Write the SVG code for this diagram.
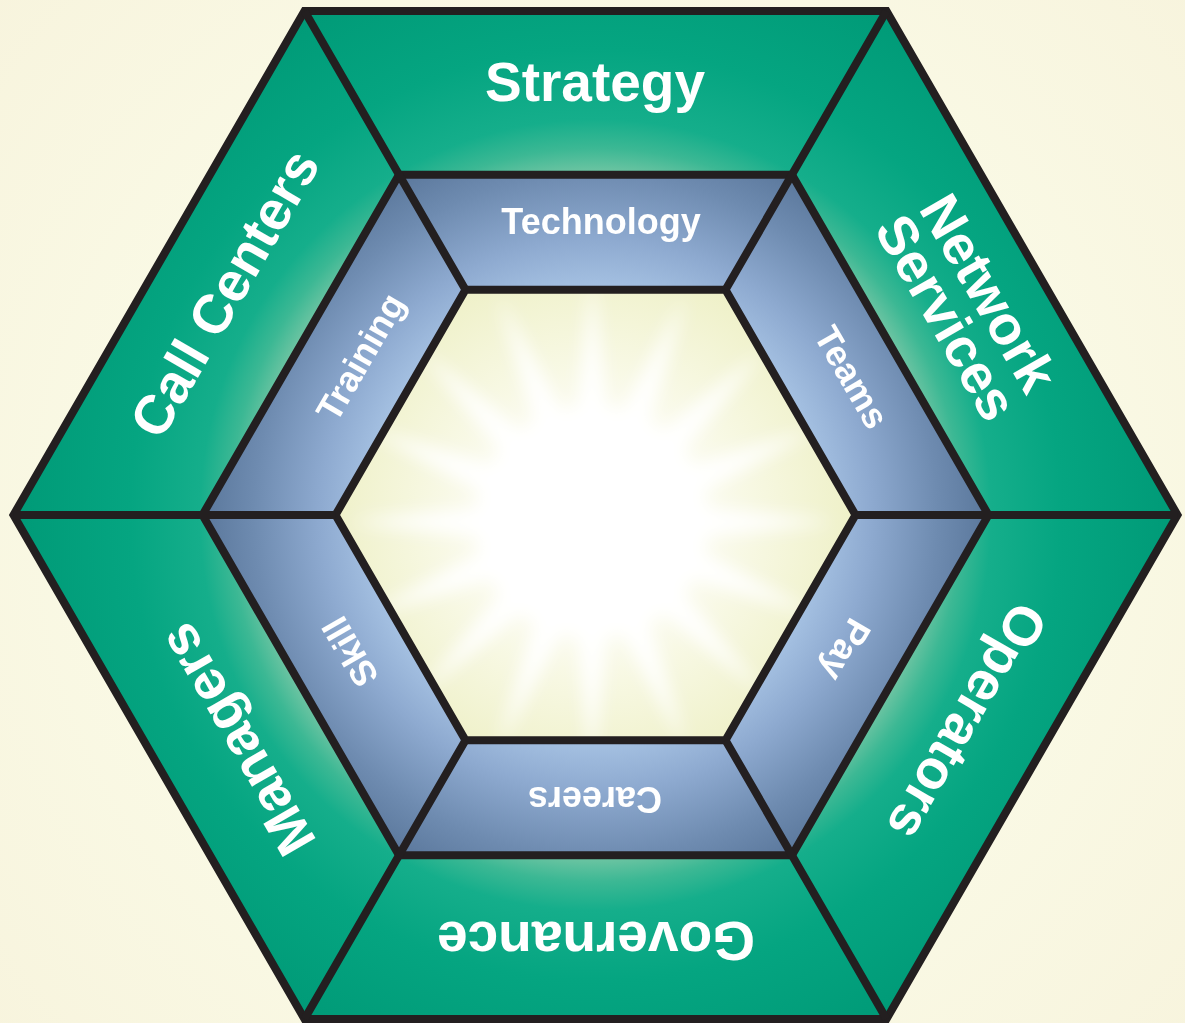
<svg xmlns="http://www.w3.org/2000/svg" width="1185" height="1023" viewBox="0 0 1185 1023">
<defs>
<radialGradient id="bg" cx="595" cy="515" r="850" gradientUnits="userSpaceOnUse">
<stop offset="0.5" stop-color="#fafae6"/><stop offset="1" stop-color="#f7f3dc"/>
</radialGradient>
<radialGradient id="green" cx="595.5" cy="515" r="582" gradientUnits="userSpaceOnUse">
<stop offset="0.59" stop-color="#6cc4a2"/><stop offset="0.63" stop-color="#3cb894"/><stop offset="0.68" stop-color="#15ae8b"/><stop offset="0.8" stop-color="#05a581"/><stop offset="1" stop-color="#009a77"/>
</radialGradient>
<radialGradient id="blue" cx="595.5" cy="515" r="393" gradientUnits="userSpaceOnUse">
<stop offset="0.57" stop-color="#a6c2e3"/><stop offset="0.7" stop-color="#8eaad0"/><stop offset="0.87" stop-color="#6e8bb0"/><stop offset="1" stop-color="#5a779b"/>
</radialGradient>
<radialGradient id="core" cx="592" cy="520" r="270" gradientUnits="userSpaceOnUse">
<stop offset="0" stop-color="#ffffff"/><stop offset="0.35" stop-color="#fdfdf4"/><stop offset="1" stop-color="#eef0c6"/>
</radialGradient>
<clipPath id="innerClip"><polygon points="335.5,515 465.5,289.8 725.5,289.8 855.5,515 725.5,740.2 465.5,740.2"/></clipPath>
<filter id="blur" x="-50%" y="-50%" width="200%" height="200%"><feGaussianBlur stdDeviation="9"/></filter>
<polygon id="ray" points="0,-245 20,-60 -20,-60"/>
</defs>
<style>
.outer{fill:url(#green)}
.mid{fill:url(#blue)}
.line{fill:none;stroke:#231f20;stroke-width:8;stroke-linejoin:miter}
.lbl{font-family:"Liberation Sans",Arial,sans-serif;font-weight:bold;fill:#ffffff;text-anchor:middle}
.big{font-size:55px}
.small{font-size:36px}
</style>
<rect width="1185" height="1023" fill="url(#bg)"/>
<g id="core-area">
<polygon points="335.5,515 465.5,289.8 725.5,289.8 855.5,515 725.5,740.2 465.5,740.2" fill="url(#core)"/>
<g clip-path="url(#innerClip)"><g filter="url(#blur)" fill="#ffffff" transform="translate(592,522)">
<circle r="115"/>
<use href="#ray"/><use href="#ray" transform="rotate(22.5)"/><use href="#ray" transform="rotate(45)"/><use href="#ray" transform="rotate(67.5)"/>
<use href="#ray" transform="rotate(90)"/><use href="#ray" transform="rotate(112.5)"/><use href="#ray" transform="rotate(135)"/><use href="#ray" transform="rotate(157.5)"/>
<use href="#ray" transform="rotate(180)"/><use href="#ray" transform="rotate(202.5)"/><use href="#ray" transform="rotate(225)"/><use href="#ray" transform="rotate(247.5)"/>
<use href="#ray" transform="rotate(270)"/><use href="#ray" transform="rotate(292.5)"/><use href="#ray" transform="rotate(315)"/><use href="#ray" transform="rotate(337.5)"/>
</g></g>
</g>
<g id="strategy"><polygon class="outer" points="304.5,11 886.5,11 792,174.7 399,174.7"/>
<text class="lbl big" transform="translate(595,81)" y="19.7">Strategy</text></g>
<g id="network-services"><polygon class="outer" points="886.5,11 1177.5,515 988.5,515 792,174.7"/>
<text class="lbl big" transform="translate(968,305) rotate(60)"><tspan x="0" y="-5">Network</tspan><tspan x="0" y="44">Services</tspan></text></g>
<g id="operators"><polygon class="outer" points="1177.5,515 886.5,1019 792,855.3 988.5,515"/>
<text class="lbl big" transform="translate(968,722) rotate(120)" y="19.7">Operators</text></g>
<g id="governance"><polygon class="outer" points="886.5,1019 304.5,1019 399,855.3 792,855.3"/>
<text class="lbl big" transform="translate(596,942) rotate(180)" y="19.7">Governance</text></g>
<g id="managers"><polygon class="outer" points="304.5,1019 13.5,515 202.5,515 399,855.3"/>
<text class="lbl big" transform="translate(236,740) rotate(240)" y="19.7">Managers</text></g>
<g id="call-centers"><polygon class="outer" points="13.5,515 304.5,11 399,174.7 202.5,515"/>
<text class="lbl big" transform="translate(224,293) rotate(-60)" y="19.7">Call Centers</text></g>
<g id="technology"><polygon class="mid" points="399,174.7 792,174.7 725.5,289.8 465.5,289.8"/>
<text class="lbl small" transform="translate(601,221.5)" y="12.9">Technology</text></g>
<g id="teams"><polygon class="mid" points="792,174.7 988.5,515 855.5,515 725.5,289.8"/>
<text class="lbl small" transform="translate(852,377) rotate(60)" y="12.9">Teams</text></g>
<g id="pay"><polygon class="mid" points="988.5,515 792,855.3 725.5,740.2 855.5,515"/>
<text class="lbl small" transform="translate(846,650) rotate(120)" y="12.9">Pay</text></g>
<g id="careers"><polygon class="mid" points="792,855.3 399,855.3 465.5,740.2 725.5,740.2"/>
<text class="lbl small" transform="translate(595,800) rotate(180)" y="12.9">Careers</text></g>
<g id="skill"><polygon class="mid" points="399,855.3 202.5,515 335.5,515 465.5,740.2"/>
<text class="lbl small" transform="translate(350,652) rotate(240)" y="12.9">Skill</text></g>
<g id="training"><polygon class="mid" points="202.5,515 399,174.7 465.5,289.8 335.5,515"/>
<text class="lbl small" transform="translate(360,357) rotate(-60)" y="12.9">Training</text></g>
<g id="connectors">
<polygon class="line" points="13.5,515 304.5,11 886.5,11 1177.5,515 886.5,1019 304.5,1019"/>
<polygon class="line" points="202.5,515 399,174.7 792,174.7 988.5,515 792,855.3 399,855.3"/>
<polygon class="line" points="335.5,515 465.5,289.8 725.5,289.8 855.5,515 725.5,740.2 465.5,740.2"/>
<path class="line" d="M304.5,11 L465.5,289.8 M886.5,11 L725.5,289.8 M1177.5,515 L855.5,515 M886.5,1019 L725.5,740.2 M304.5,1019 L465.5,740.2 M13.5,515 L335.5,515"/>
</g>
</svg>
